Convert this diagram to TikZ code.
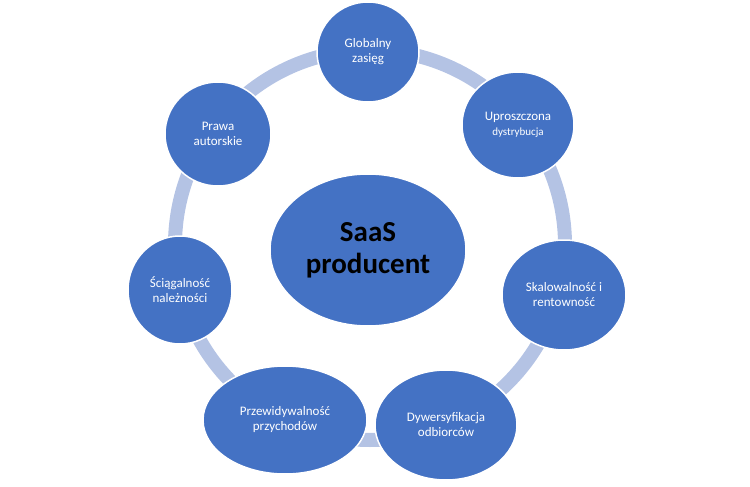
\documentclass[tikz,border=0pt]{standalone}
\usepackage{fontspec}
\setmainfont{Carlito}
\usetikzlibrary{shapes.geometric}
\definecolor{fillb}{HTML}{4472C4}
\definecolor{ringb}{HTML}{B4C3E4}
\begin{document}
\begin{tikzpicture}[x=1pt,y=-1pt,
  sat/.style={ellipse,fill=fillb,draw=white,line width=1.5pt,text=white,align=center,font=\fontsize{13}{15}\selectfont,inner sep=0pt}]
\useasboundingbox (0,0) rectangle (750,487);
\draw[ringb,line width=14pt] (370,245) circle (195);
\node[sat,minimum width=102,minimum height=100] (g) at (368,52) {Globalny\\zasięg};
\node[sat,minimum width=112,minimum height=106] (u) at (518,125) {Uproszczona\\{\fontsize{11}{13}\selectfont dystrybucja}};
\node[sat,minimum width=124,minimum height=110] (s) at (564,295) {Skalowalność i\\rentowność};
\node[sat,minimum width=142,minimum height=110] (d) at (446,425) {Dywersyfikacja\\odbiorców};
\node[sat,minimum width=164,minimum height=108] (p) at (285,420) {Przewidywalność\\przychodów};
\node[sat,minimum width=104,minimum height=108] (c) at (180,290) {Ściągalność\\należności};
\node[sat,minimum width=106,minimum height=104] (a) at (218,134) {Prawa\\autorskie};
\node[sat,minimum width=196,minimum height=152,font=\fontsize{29}{32}\selectfont\bfseries,text=black] (m) at (368,250) {SaaS\\producent};
\end{tikzpicture}
\end{document}
